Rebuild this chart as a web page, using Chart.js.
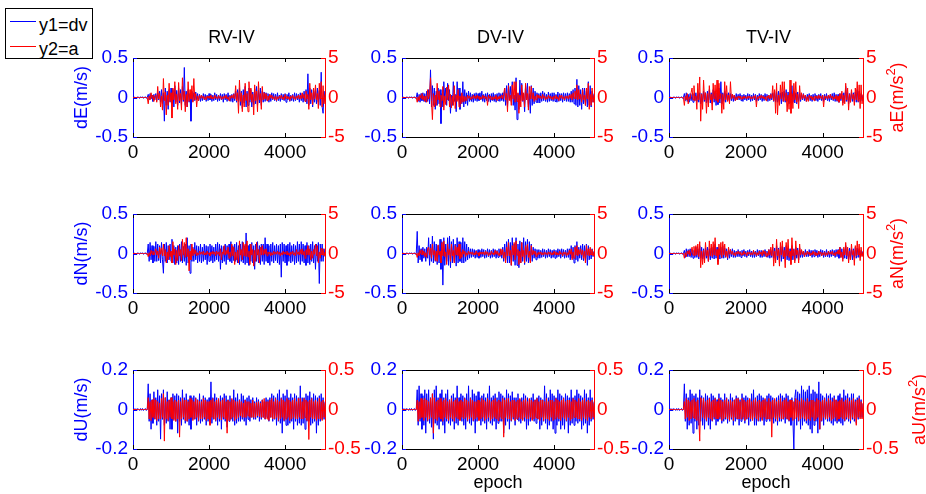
<!DOCTYPE html>
<html>
<head>
<meta charset="utf-8">
<script src="https://cdn.jsdelivr.net/npm/chart.js@4.4.0/dist/chart.umd.min.js"></script>
<style>
  html, body { margin: 0; padding: 0; background: #fff; }
  body { width: 926px; height: 494px; position: relative; overflow: hidden;
         font-family: "Liberation Sans", Arial, Helvetica, sans-serif; }
  .panel { position: absolute; }
  .panel canvas { display: block; }
  #legend { position: absolute; left: 5px; top: 8px; width: 86px; height: 49px;
            border: 1px solid #000; background: #fff; }
  #legend .ln { position: absolute; left: 4px; width: 26px; height: 1px; }
  #legend .tx { position: absolute; left: 33px; font-size: 18px; line-height: 20px; color: #000; white-space: nowrap; }
</style>
</head>
<body>
<div id="legend">
  <div class="ln" style="top:12px;background:#0000ff"></div>
  <div class="tx" style="top:6px">y1=dv</div>
  <div class="ln" style="top:37px;background:#ff0000"></div>
  <div class="tx" style="top:30px">y2=a</div>
</div>
<script>
/* ---- axes ---- */
const epochStep  = 25;
const epochMax   = 5050;
const epochTicks = [0, 2000, 4000];
const dvTicksEN  = [-0.5, 0, 0.5];
const aTicksEN   = [-5, 0, 5];
const dvTicksU   = [-0.2, 0, 0.2];
const aTicksU    = [-0.5, 0, 0.5];

const methods = ['RV-IV', 'DV-IV', 'TV-IV'];
const comps   = ['E', 'N', 'U'];

/* ---- series, one value every 25 epochs (0..375 is the quiet start) ---- */
const headEN = [0,0.01,-0.01,0.005,-0.01,0.01,0,-0.01,0.01,-0.005,0.01,-0.01,0,0.01,-0.01,0];
const headU  = [0,0.005,-0.005,0.004,-0.005,0.005,0,-0.005,0.005,-0.004,0.005,-0.005,0,0.005,-0.005,0];
const headA  = [0,0,0,0,0,0,0,0,0,0,0,0,0,0,0,0];

const dE_RV = [...headEN,
  0.04,-0.03,0.05,-0.02,0.03,-0.05,0.04,-0.03,
  0.05,-0.04,0.06,-0.03,0.08,-0.06,0.1,-0.08,
  0.06,-0.3,0.12,-0.1,0.08,-0.15,0.1,-0.06,
  0.12,-0.08,0.1,-0.12,0.15,-0.06,0.09,-0.1,
  0.12,-0.07,0.1,-0.09,0.14,-0.05,0.38,-0.1,
  0.08,-0.12,0.1,-0.06,0.05,-0.3,0.08,-0.05,
  0.06,-0.04,0.07,-0.03,0.05,-0.04,0.04,-0.05,
  0.03,-0.04,0.05,-0.03,0.04,-0.05,0.03,-0.04,
  0.05,-0.03,0.04,-0.05,0.03,-0.04,0.06,-0.03,
  0.04,-0.05,0.03,-0.04,0.05,-0.03,0.04,-0.06,
  0.05,-0.03,0.04,-0.05,0.06,-0.04,0.03,-0.05,
  0.04,-0.06,0.05,-0.04,0.08,-0.06,0.1,-0.05,
  0.12,-0.1,0.08,-0.14,0.1,-0.07,0.14,-0.12,
  0.08,-0.1,0.12,-0.06,0.1,-0.12,0.07,-0.09,
  0.11,-0.08,0.14,-0.1,0.09,-0.07,0.12,-0.1,
  0.08,-0.06,0.07,-0.05,0.06,-0.04,0.05,-0.06,
  0.04,-0.05,0.06,-0.03,0.05,-0.04,0.04,-0.05,
  0.06,-0.04,0.03,-0.05,0.05,-0.03,0.04,-0.04,
  0.05,-0.06,0.04,-0.03,0.06,-0.05,0.03,-0.04,
  0.04,-0.05,0.06,-0.04,0.05,-0.03,0.04,-0.06,
  0.06,-0.04,0.05,-0.06,0.08,-0.05,0.1,-0.08,
  0.3,-0.1,0.12,-0.08,0.1,-0.12,0.08,-0.06,
  0.1,-0.08,0.12,-0.06,0.09,-0.1,0.32,-0.12,
  -0.2,0.08,-0.05];
const aE_RV = [...headA,
  -0.8,0.2,-0.3,0.6,-0.1,0.3,-0.5,0.1,
  0.3,-0.6,1.4,-0.2,0.5,-1.2,0.2,-1.6,
  2.4,-0.4,0.7,-2.2,0.3,-1.0,1.8,-0.5,
  0.6,-2.6,1.2,-0.3,2.0,-0.8,0.4,-1.5,
  1.9,-0.4,0.5,-1.6,2.5,-0.3,0.8,-1.8,
  0.4,-1.2,2.0,-0.5,1.0,-0.2,1.5,-0.6,
  2.4,-0.3,0.5,-1.2,0.2,-0.4,0.3,-0.1,
  0.3,-0.1,0.2,-0.25,0.1,-0.3,0.2,-0.1,
  0.2,-0.1,0.3,-0.2,0.1,-0.2,0.3,-0.1,
  0.1,-0.2,0.25,-0.1,0.2,-0.25,0.1,-0.2,
  0.2,-0.1,0.3,-0.2,0.1,-0.4,0.2,-0.1,
  0.3,-0.1,0.4,-0.2,1.5,-0.4,0.6,-2.0,
  2.2,-0.5,0.6,-1.8,0.3,-1.2,1.8,-0.4,
  0.5,-1.8,2.0,-0.3,1.2,-0.6,0.4,-2.2,
  1.6,-0.4,0.8,-1.8,2.0,-0.3,0.5,-1.5,
  1.4,-0.3,0.6,-0.2,0.5,-0.4,0.2,-0.3,
  0.4,-0.1,0.3,-0.2,0.1,-0.3,0.2,-0.4,
  0.1,-0.2,0.2,-0.1,0.3,-0.2,0.1,-0.3,
  0.4,-0.1,0.2,-0.2,0.1,-0.4,0.2,-0.1,
  0.3,-0.2,0.1,-0.3,0.2,-0.1,0.3,-0.2,
  0.3,-0.2,0.6,-0.1,0.4,-0.5,0.8,-0.2,
  0.4,-1.5,1.8,-0.3,0.6,-0.9,1.2,-0.2,
  1.6,-0.3,0.5,-1.4,1.8,-0.2,2.0,-1.2,
  1.5,-0.8,0.4];
const dE_DV = [...headEN,
  0.06,-0.05,0.04,-0.06,0.05,-0.04,0.06,-0.05,
  0.05,-0.06,0.08,-0.05,0.1,-0.08,0.35,-0.12,
  0.15,-0.1,0.12,-0.15,0.08,-0.1,0.12,-0.08,
  0.1,-0.33,0.05,-0.12,0.2,-0.03,0.12,-0.1,
  0.18,-0.04,0.1,-0.2,0.03,-0.1,0.2,-0.05,
  0.04,-0.18,0.2,-0.03,0.12,-0.15,0.05,-0.08,
  0.2,-0.12,0.1,-0.08,0.06,-0.1,0.08,-0.05,
  0.06,-0.05,0.04,-0.06,0.05,-0.04,0.06,-0.05,
  0.05,-0.04,0.06,-0.03,0.08,-0.05,0.04,-0.06,
  0.05,-0.04,0.06,-0.05,0.04,-0.06,0.05,-0.04,
  0.06,-0.05,0.04,-0.06,0.05,-0.04,0.06,-0.05,
  0.05,-0.04,0.06,-0.05,0.12,-0.1,0.15,-0.12,
  0.18,-0.03,0.14,-0.05,0.2,-0.1,0.03,-0.16,
  0.25,-0.28,0.05,-0.15,0.22,-0.04,0.18,-0.05,
  0.04,-0.18,0.15,-0.03,0.18,-0.12,0.05,-0.2,
  0.15,-0.1,0.12,-0.08,0.08,-0.06,0.06,-0.07,
  0.05,-0.07,0.06,-0.05,0.08,-0.04,0.06,-0.05,
  0.04,-0.06,0.07,-0.05,0.05,-0.04,0.06,-0.05,
  0.06,-0.05,0.04,-0.06,0.07,-0.05,0.05,-0.04,
  0.05,-0.06,0.06,-0.04,0.05,-0.05,0.06,-0.05,
  0.05,-0.06,0.08,-0.06,0.1,-0.08,0.12,-0.1,
  0.23,-0.12,0.15,-0.1,0.1,-0.15,0.12,-0.08,
  0.12,-0.1,0.08,-0.12,0.2,-0.1,0.15,-0.12,
  0.08,-0.06,0.05];
const aE_DV = [...headA,
  -0.6,0.1,-0.4,0.3,-0.1,0.5,-0.3,0.2,
  -0.5,0.2,-0.6,1.0,-0.2,0.4,2.5,-0.4,
  -2.8,0.5,-1.2,0.3,-1.0,1.8,-0.3,0.8,
  -1.2,0.3,-0.4,1.4,-1.6,0.2,-0.9,1.3,
  -0.3,1.6,-1.2,0.4,-1.3,0.2,-1.0,1.5,
  -1.4,0.3,-0.5,1.0,-1.2,0.2,-0.8,0.6,
  -0.6,0.2,-0.5,0.1,-0.4,0.3,-0.1,0.2,
  -0.3,0.1,-0.2,0.3,-0.1,0.2,-0.2,0.3,
  -0.1,0.2,-0.3,0.1,-0.2,0.3,-0.1,0.2,
  -0.2,0.1,-1.0,0.3,-0.1,0.2,-0.3,0.1,
  -0.3,0.1,-0.2,0.3,-0.4,0.1,-0.2,0.2,
  -0.1,0.3,-0.2,0.4,1.2,-0.3,0.5,-1.8,
  1.5,-0.4,0.3,-1.0,1.6,-0.2,2.0,-0.6,
  2.0,-0.5,0.6,-2.0,0.3,-1.2,1.6,-0.4,
  0.6,-1.2,1.8,-0.3,0.5,-1.6,1.4,-0.2,
  1.4,-0.2,0.6,-0.5,0.2,-0.3,0.4,-0.1,
  0.3,-0.1,0.2,-0.2,0.4,-0.1,0.2,-0.3,
  0.1,-0.2,0.3,-0.1,0.2,-0.2,0.1,-0.3,
  0.2,-0.1,0.3,-0.2,0.1,-0.4,0.3,-0.1,
  0.3,-0.2,0.1,-0.3,0.2,-0.1,0.2,-0.2,
  0.3,-0.1,0.4,-0.3,0.6,-0.1,0.8,-0.2,
  1.6,-0.3,1.0,-0.2,0.4,-0.6,1.0,-0.3,
  0.3,-1.0,1.2,-0.2,1.8,-1.5,0.4,-1.0,
  1.2,-0.6,0.3];
const dE_TV = [...headEN,
  0.05,-0.04,0.06,-0.05,0.04,-0.06,0.05,-0.04,
  0.04,-0.06,0.05,-0.04,0.06,-0.05,0.04,-0.06,
  0.06,-0.08,0.05,-0.06,0.08,-0.05,0.06,-0.07,
  0.08,-0.06,0.1,-0.07,0.06,-0.08,0.1,-0.06,
  0.08,-0.1,0.06,-0.09,0.12,-0.07,0.2,-0.08,
  0.06,-0.05,0.08,-0.06,0.05,-0.04,0.06,-0.05,
  0.05,-0.04,0.04,-0.05,0.03,-0.04,0.05,-0.03,
  0.04,-0.03,0.05,-0.04,0.03,-0.05,0.04,-0.03,
  0.03,-0.04,0.05,-0.03,0.04,-0.05,0.03,-0.04,
  0.05,-0.03,0.04,-0.05,0.03,-0.04,0.05,-0.03,
  0.04,-0.05,0.03,-0.04,0.05,-0.03,0.04,-0.05,
  0.03,-0.04,0.05,-0.03,0.06,-0.05,0.08,-0.06,
  0.07,-0.06,0.08,-0.05,0.06,-0.08,0.07,-0.05,
  0.08,-0.06,0.1,-0.05,0.07,-0.08,0.06,-0.07,
  0.15,-0.06,0.08,-0.07,0.06,-0.08,0.07,-0.05,
  0.06,-0.05,0.04,-0.03,0.05,-0.04,0.03,-0.05,
  0.04,-0.03,0.05,-0.04,0.03,-0.05,0.04,-0.03,
  0.05,-0.04,0.03,-0.05,0.04,-0.03,0.05,-0.04,
  0.03,-0.05,0.04,-0.03,0.05,-0.04,0.03,-0.05,
  0.04,-0.03,0.05,-0.04,0.06,-0.05,0.04,-0.05,
  0.04,-0.06,0.05,-0.04,0.05,-0.07,0.06,-0.05,
  0.14,-0.05,0.06,-0.08,0.05,-0.06,0.07,-0.05,
  0.06,-0.05,0.07,-0.06,0.1,-0.06,0.08,-0.05,
  0.05,-0.04,0.03];
const aE_TV = [...headA,
  -1.0,0.2,-0.3,0.5,-0.8,0.1,-0.2,0.6,
  1.2,-0.3,1.5,-0.4,0.2,-1.5,1.8,-0.3,
  2.6,-3.0,0.4,-1.5,2.2,-0.3,0.6,-2.0,
  0.5,-1.2,1.5,-0.3,0.4,-1.6,1.8,-0.2,
  1.6,-0.4,2.2,-0.6,1.8,-0.2,0.5,-2.0,
  0.4,-1.5,2.0,-0.3,1.5,-0.5,0.3,-0.8,
  2.0,-0.2,0.4,-0.1,0.3,-0.4,0.1,-0.3,
  0.2,-0.1,0.2,-0.2,0.1,-0.2,0.2,-0.1,
  0.1,-0.2,0.2,-0.1,0.2,-0.2,0.1,-0.2,
  0.2,-0.1,0.3,-1.2,0.1,-0.2,0.2,-0.1,
  0.3,-0.1,0.2,-0.2,0.1,-0.4,0.2,-0.1,
  0.3,-0.2,0.4,-0.1,1.5,-0.4,1.0,-2.0,
  1.8,-2.2,0.3,-1.0,1.6,-0.2,2.0,-0.5,
  2.0,-0.4,0.6,-1.8,0.3,-1.5,2.2,-2.0,
  0.5,-1.4,1.8,-0.3,2.0,-0.6,0.4,-1.4,
  1.5,-0.3,0.6,-0.2,0.4,-0.1,0.3,-0.5,
  0.1,-0.5,0.3,-0.1,0.2,-0.3,0.1,-0.4,
  0.2,-0.1,0.2,-0.2,0.3,-0.1,0.2,-0.2,
  0.3,-1.2,0.2,-0.1,0.2,-0.2,0.3,-0.1,
  0.4,-0.1,0.2,-0.3,0.1,-0.2,0.3,-0.4,
  0.2,-0.6,0.5,-0.2,0.8,-1.0,0.3,-0.8,
  1.8,-0.3,1.2,-1.6,0.4,-0.6,1.0,-0.2,
  0.4,-1.0,1.2,-0.3,2.0,-0.5,1.6,-1.4,
  1.6,-0.8,0.4];

const dN_RV = [...headEN,
  0.12,-0.1,0.14,-0.08,0.1,-0.12,0.09,-0.1,
  0.15,-0.1,0.12,-0.09,0.1,-0.12,0.14,-0.08,
  -0.25,0.12,-0.1,0.14,-0.12,0.1,-0.08,0.12,
  -0.1,0.18,-0.12,0.1,-0.14,0.08,-0.12,0.1,
  -0.14,0.12,-0.1,0.15,-0.12,0.09,-0.1,0.12,
  -0.15,0.2,-0.12,0.1,-0.25,0.12,-0.1,0.08,
  -0.1,0.14,-0.08,0.1,-0.12,0.09,-0.1,0.12,
  -0.12,0.08,-0.1,0.12,-0.08,0.1,-0.14,0.09,
  -0.1,0.12,-0.09,0.1,-0.12,0.08,-0.1,0.12,
  -0.08,0.14,-0.1,0.12,-0.2,0.1,-0.12,0.09,
  -0.1,0.12,-0.14,0.1,-0.08,0.12,-0.1,0.15,
  -0.12,0.1,-0.09,0.12,-0.1,0.14,-0.12,0.1,
  -0.14,0.12,-0.1,0.15,-0.12,0.1,-0.14,0.26,
  -0.12,0.1,-0.15,0.12,-0.1,0.14,-0.12,0.1,
  -0.2,0.12,-0.1,0.15,-0.12,0.1,-0.14,0.12,
  -0.1,0.12,-0.14,0.2,-0.1,0.12,-0.12,0.1,
  -0.15,0.12,-0.1,0.14,-0.12,0.1,-0.09,0.12,
  -0.12,0.1,-0.14,0.12,-0.3,0.14,-0.1,0.12,
  -0.12,0.1,-0.15,0.12,-0.1,0.14,-0.12,0.1,
  -0.1,0.12,-0.14,0.1,-0.12,0.15,-0.1,0.12,
  -0.14,0.15,-0.1,0.12,-0.12,0.1,-0.15,0.14,
  -0.12,0.1,-0.14,0.12,-0.1,0.15,-0.12,0.1,
  -0.2,0.12,-0.1,0.14,-0.38,0.12,-0.1,0.12,
  -0.1,0.06,-0.04];
const aN_RV = [...headA,
  -0.4,0.1,-0.3,0.4,-0.1,0.3,-0.2,0.1,
  0.6,-0.2,0.3,-0.6,0.8,-0.1,0.7,-0.3,
  1.2,-0.3,0.5,-1.2,0.2,-0.8,1.0,-0.4,
  0.3,-1.2,1.5,-0.2,0.6,-1.4,0.4,-0.9,
  1.0,-0.3,0.5,-0.9,1.8,-0.2,1.4,-0.5,
  2.0,-0.4,0.6,-2.2,0.3,-0.8,1.2,-0.3,
  0.6,-0.1,0.4,-0.3,0.1,-0.2,0.3,-0.1,
  0.2,-0.1,0.3,-0.2,0.1,-0.2,0.3,-0.1,
  0.1,-0.3,0.2,-0.1,0.3,-0.1,0.2,-0.3,
  0.3,-0.1,0.2,-0.3,0.6,-0.8,0.2,-0.1,
  1.0,-0.2,0.4,-0.1,0.8,-0.6,0.2,-0.4,
  1.2,-0.3,0.8,-1.4,0.2,-0.8,0.4,-1.2,
  1.6,-0.2,0.5,-0.8,1.4,-0.3,1.2,-0.4,
  1.6,-0.4,0.3,-1.4,1.2,-0.2,0.5,-1.6,
  0.4,-1.0,1.4,-0.2,0.5,-1.2,0.8,-0.2,
  1.0,-0.2,0.5,-0.1,0.6,-0.3,0.2,-0.1,
  0.2,-0.3,0.1,-0.2,0.3,-0.1,0.2,-0.1,
  0.3,-0.1,0.2,-0.3,0.1,-0.2,0.3,-0.1,
  0.2,-0.1,0.3,-0.2,0.1,-0.3,0.2,-0.1,
  0.3,-0.2,0.1,-0.3,0.5,-0.1,0.2,-0.2,
  0.5,-0.1,0.6,-0.2,0.3,-0.6,0.5,-0.2,
  1.0,-0.2,0.6,-0.8,0.3,-0.6,0.5,-0.1,
  1.2,-0.3,1.0,-1.2,0.2,-0.6,0.7,-0.2,
  0.6,-0.3,0.2];
const dN_DV = [...headEN,
  0.28,-0.12,0.1,-0.08,0.06,-0.1,0.08,-0.06,
  0.06,-0.1,0.08,-0.06,0.2,-0.15,0.12,-0.1,
  0.22,-0.12,0.15,-0.1,0.12,-0.14,0.1,-0.12,
  0.18,-0.2,0.15,-0.4,0.2,-0.15,0.12,-0.1,
  0.2,-0.15,0.22,-0.18,0.15,-0.12,0.18,-0.1,
  0.12,-0.16,0.2,-0.12,0.15,-0.1,0.14,-0.12,
  0.2,-0.12,0.15,-0.1,0.12,-0.08,0.08,-0.06,
  0.06,-0.05,0.06,-0.04,0.05,-0.06,0.04,-0.05,
  0.05,-0.06,0.04,-0.05,0.06,-0.04,0.05,-0.06,
  0.04,-0.05,0.06,-0.04,0.05,-0.06,0.04,-0.05,
  0.06,-0.04,0.05,-0.06,0.04,-0.05,0.06,-0.04,
  0.05,-0.06,0.08,-0.1,0.12,-0.08,0.15,-0.12,
  0.18,-0.12,0.14,-0.15,0.2,-0.1,0.12,-0.15,
  0.2,-0.15,0.12,-0.18,0.16,-0.12,0.14,-0.1,
  0.2,-0.14,0.15,-0.1,0.18,-0.12,0.15,-0.1,
  0.12,-0.1,0.08,-0.06,0.06,-0.08,0.05,-0.06,
  0.05,-0.06,0.04,-0.05,0.06,-0.04,0.05,-0.06,
  0.04,-0.05,0.06,-0.04,0.05,-0.06,0.04,-0.05,
  0.05,-0.06,0.04,-0.05,0.06,-0.04,0.05,-0.06,
  0.06,-0.04,0.05,-0.06,0.04,-0.05,0.06,-0.05,
  0.06,-0.08,0.1,-0.06,0.08,-0.12,0.1,-0.08,
  0.15,-0.1,0.08,-0.06,0.1,-0.08,0.12,-0.09,
  0.1,-0.08,0.12,-0.15,0.1,-0.08,0.06,-0.07,
  0.06,-0.04,0.03];
const aN_DV = [...headA,
  -0.5,0.1,-0.3,0.4,-0.1,0.5,-0.2,0.3,
  -0.4,0.1,-0.5,0.6,0.8,-0.2,0.7,-0.6,
  1.2,-0.2,0.4,-0.9,0.3,-1.0,1.1,-0.2,
  0.3,-1.2,1.4,-0.3,1.6,-0.4,0.2,-1.4,
  1.2,-0.2,0.5,-1.0,1.2,-0.3,0.4,-1.2,
  1.0,-0.2,0.8,-0.3,1.2,-0.7,0.2,-0.5,
  0.5,-0.1,0.3,-0.4,0.1,-0.2,0.3,-0.1,
  0.2,-0.1,0.2,-0.2,0.1,-0.2,0.3,-0.1,
  0.1,-0.3,0.2,-0.1,0.2,-0.1,0.2,-0.2,
  0.3,-0.1,0.2,-0.3,0.1,-0.2,0.3,-0.1,
  0.1,-0.2,0.4,-0.1,0.3,-0.2,0.1,-0.3,
  0.6,-0.2,0.5,-0.6,0.2,-1.2,0.8,-0.3,
  1.4,-0.3,0.4,-1.5,1.0,-0.2,1.4,-0.8,
  1.6,-0.2,0.5,-1.4,0.3,-1.2,1.4,-0.4,
  0.4,-1.2,1.0,-0.2,1.2,-0.5,0.3,-1.2,
  1.0,-0.2,0.4,-0.1,0.3,-0.4,0.1,-0.2,
  0.2,-0.1,0.2,-0.2,0.1,-0.2,0.2,-0.1,
  0.1,-0.2,0.2,-0.1,0.2,-0.2,0.1,-0.2,
  0.3,-0.1,0.2,-0.2,0.1,-0.2,0.3,-0.1,
  0.1,-0.3,0.2,-0.1,0.2,-0.3,0.1,-0.2,
  0.4,-0.1,0.6,-0.8,0.2,-0.6,0.8,-0.2,
  1.0,-0.3,0.5,-0.1,0.6,-0.2,0.4,-0.6,
  0.3,-1.2,1.0,-0.2,0.6,-0.3,0.8,-0.2,
  0.5,-0.3,0.2];
const dN_TV = [...headEN,
  0.04,-0.05,0.06,-0.04,0.05,-0.04,0.06,-0.05,
  0.05,-0.06,0.04,-0.05,0.08,-0.05,0.06,-0.07,
  0.1,-0.06,0.08,-0.07,0.06,-0.08,0.07,-0.06,
  0.08,-0.1,0.06,-0.08,0.07,-0.06,0.08,-0.07,
  0.12,-0.06,0.08,-0.1,0.06,-0.07,0.08,-0.06,
  0.1,-0.06,0.07,-0.05,0.06,-0.08,0.05,-0.06,
  0.05,-0.04,0.06,-0.05,0.04,-0.05,0.03,-0.04,
  0.05,-0.04,0.03,-0.05,0.04,-0.03,0.05,-0.04,
  0.03,-0.05,0.04,-0.03,0.05,-0.04,0.03,-0.05,
  0.04,-0.05,0.03,-0.04,0.05,-0.03,0.04,-0.05,
  0.04,-0.05,0.03,-0.04,0.05,-0.04,0.03,-0.05,
  0.05,-0.06,0.04,-0.05,0.08,-0.06,0.07,-0.08,
  0.1,-0.08,0.07,-0.06,0.08,-0.1,0.09,-0.07,
  0.08,-0.06,0.1,-0.08,0.07,-0.09,0.06,-0.08,
  0.1,-0.08,0.06,-0.09,0.08,-0.06,0.07,-0.08,
  0.07,-0.05,0.04,-0.05,0.03,-0.04,0.05,-0.04,
  0.03,-0.04,0.05,-0.03,0.04,-0.05,0.04,-0.04,
  0.05,-0.03,0.04,-0.05,0.03,-0.04,0.05,-0.03,
  0.04,-0.05,0.03,-0.04,0.05,-0.04,0.03,-0.05,
  0.04,-0.04,0.05,-0.03,0.04,-0.05,0.05,-0.04,
  0.05,-0.06,0.08,-0.05,0.06,-0.07,0.05,-0.06,
  0.1,-0.07,0.06,-0.08,0.07,-0.05,0.06,-0.08,
  0.06,-0.05,0.08,-0.06,0.07,-0.05,0.06,-0.05,
  0.04,-0.03,0.03];
const aN_TV = [...headA,
  -0.6,0.1,-0.4,0.3,-0.1,0.4,-0.3,0.2,
  0.8,-0.2,0.9,-0.3,1.0,-0.2,1.2,-0.4,
  1.5,-1.8,0.3,-1.4,0.4,-1.2,1.4,-0.3,
  0.4,-1.0,1.6,-0.3,1.2,-0.4,1.5,-0.2,
  2.0,-0.3,0.5,-1.4,1.2,-0.2,1.4,-0.5,
  1.5,-0.2,1.2,-0.4,0.3,-0.6,0.8,-0.1,
  0.5,-0.1,0.3,-0.2,0.1,-0.3,0.2,-0.1,
  0.3,-0.1,0.2,-0.2,0.1,-0.2,0.3,-0.1,
  0.1,-0.3,0.2,-0.1,0.2,-0.2,0.1,-0.2,
  0.4,-0.1,0.2,-0.3,0.1,-0.2,0.3,-0.1,
  0.2,-0.3,0.4,-0.1,0.3,-0.4,0.1,-0.3,
  0.5,-0.2,0.8,-0.3,1.2,-1.6,0.3,-1.2,
  1.8,-0.3,0.5,-1.6,1.4,-0.2,1.6,-0.4,
  0.4,-1.8,1.4,-0.3,1.8,-0.5,0.3,-1.4,
  2.0,-0.3,0.5,-1.2,1.6,-0.2,0.4,-1.2,
  1.2,-0.2,0.5,-0.1,0.3,-0.4,0.1,-0.2,
  0.3,-0.1,0.2,-0.3,0.1,-0.2,0.3,-0.1,
  0.2,-0.3,0.1,-0.2,0.3,-0.1,0.2,-0.3,
  0.1,-0.2,0.2,-0.3,0.1,-0.2,0.3,-0.1,
  0.2,-0.1,0.3,-0.2,0.1,-0.3,0.2,-0.1,
  0.4,-0.1,0.8,-0.5,0.2,-1.0,0.8,-0.2,
  1.4,-0.3,0.8,-1.2,0.3,-0.8,1.2,-0.2,
  0.4,-1.5,1.0,-0.3,1.6,-0.2,1.2,-0.9,
  0.8,-0.4,0.2];

const dU_RV = [...headU,
  0.13,-0.06,0.08,-0.1,0.05,-0.07,0.09,-0.05,
  0.06,-0.08,0.1,-0.06,0.07,-0.15,0.08,-0.05,
  0.1,-0.08,0.06,-0.07,0.09,-0.06,0.05,-0.1,
  0.06,-0.1,0.08,-0.05,0.07,-0.06,0.08,-0.12,
  0.07,-0.06,0.06,-0.08,0.1,-0.05,0.06,-0.07,
  0.08,-0.06,0.05,-0.08,0.07,-0.1,0.06,-0.05,
  0.07,-0.05,0.06,-0.08,0.05,-0.06,0.08,-0.07,
  0.05,-0.06,0.07,-0.05,0.06,-0.08,0.05,-0.06,
  0.06,-0.07,0.14,-0.07,0.06,-0.05,0.08,-0.06,
  0.06,-0.08,0.05,-0.06,0.07,-0.1,0.06,-0.05,
  0.08,-0.06,0.07,-0.09,0.05,-0.06,0.07,-0.05,
  0.05,-0.06,0.1,-0.08,0.06,-0.07,0.08,-0.06,
  0.05,-0.06,0.08,-0.05,0.07,-0.06,0.05,-0.08,
  0.06,-0.05,0.07,-0.06,0.05,-0.04,0.06,-0.05,
  0.04,-0.05,0.06,-0.04,0.05,-0.06,0.04,-0.05,
  0.05,-0.04,0.04,-0.05,0.06,-0.04,0.05,-0.06,
  0.06,-0.04,0.08,-0.06,0.07,-0.05,0.06,-0.08,
  0.08,-0.06,0.1,-0.07,0.06,-0.12,0.08,-0.06,
  0.07,-0.08,0.1,-0.08,0.06,-0.07,0.08,-0.06,
  0.06,-0.1,0.08,-0.06,0.07,-0.08,0.06,-0.07,
  0.12,-0.08,0.06,-0.07,0.06,-0.1,0.08,-0.06,
  0.07,-0.06,0.09,-0.08,0.06,-0.07,0.08,-0.06,
  0.07,-0.12,0.06,-0.08,0.07,-0.06,0.08,-0.05,
  0.06,-0.05,0.04];
const aU_RV = [...headA,
  0.15,-0.12,0.1,-0.14,0.12,-0.1,0.14,-0.12,
  0.12,-0.14,0.1,-0.12,0.08,-0.12,0.14,-0.1,
  0.2,-0.4,0.15,-0.12,0.1,-0.14,0.12,-0.1,
  0.15,-0.12,0.1,-0.14,0.12,-0.15,0.1,-0.12,
  0.12,-0.35,0.1,-0.12,0.14,-0.1,0.12,-0.14,
  0.12,-0.15,0.1,-0.12,0.14,-0.1,0.12,-0.14,
  0.1,-0.12,0.14,-0.1,0.12,-0.14,0.1,-0.12,
  0.1,-0.12,0.14,-0.1,0.12,-0.14,0.1,-0.12,
  0.1,-0.2,0.12,-0.1,0.14,-0.12,0.1,-0.14,
  0.12,-0.1,0.14,-0.12,0.1,-0.13,0.12,-0.1,
  0.14,-0.12,0.1,-0.3,0.12,-0.14,0.1,-0.12,
  0.14,-0.1,0.12,-0.14,0.1,-0.12,0.1,-0.1,
  0.12,-0.08,0.1,-0.1,0.08,-0.1,0.12,-0.1,
  0.1,-0.08,0.1,-0.1,0.08,-0.1,0.12,-0.1,
  0.08,-0.1,0.09,-0.08,0.1,-0.09,0.08,-0.1,
  0.12,-0.1,0.14,-0.12,0.1,-0.12,0.1,-0.14,
  0.12,-0.1,0.14,-0.12,0.1,-0.12,0.14,-0.1,
  0.12,-0.14,0.1,-0.12,0.14,-0.1,0.12,-0.14,
  0.1,-0.12,0.14,-0.1,0.12,-0.14,0.1,-0.12,
  0.12,-0.1,0.14,-0.12,0.1,-0.12,0.14,-0.1,
  0.14,-0.12,0.1,-0.12,0.14,-0.1,0.12,-0.14,
  0.1,-0.38,0.12,-0.1,0.14,-0.12,0.1,-0.12,
  0.12,-0.14,0.1,-0.12,0.14,-0.12,0.1,-0.14,
  0.12,-0.1,0.08];
const dU_DV = [...headU,
  0.1,-0.08,0.12,-0.06,0.08,-0.1,0.07,-0.08,
  0.1,-0.12,0.08,-0.06,0.1,-0.07,0.06,-0.09,
  0.08,-0.15,0.1,-0.07,0.12,-0.08,0.06,-0.1,
  0.08,-0.06,0.1,-0.08,0.06,-0.12,0.08,-0.06,
  0.1,-0.07,0.05,-0.08,0.07,-0.06,0.08,-0.1,
  0.06,-0.07,0.12,-0.08,0.06,-0.05,0.08,-0.06,
  0.07,-0.08,0.06,-0.1,0.08,-0.06,0.12,-0.07,
  0.06,-0.08,0.1,-0.06,0.08,-0.12,0.07,-0.06,
  0.09,-0.05,0.06,-0.08,0.07,-0.06,0.08,-0.07,
  0.06,-0.1,0.08,-0.06,0.12,-0.07,0.06,-0.08,
  0.07,-0.06,0.08,-0.1,0.06,-0.07,0.09,-0.06,
  0.08,-0.06,0.07,-0.12,0.06,-0.08,0.1,-0.06,
  0.08,-0.1,0.07,-0.06,0.09,-0.05,0.06,-0.08,
  0.06,-0.05,0.08,-0.06,0.05,-0.07,0.06,-0.05,
  0.08,-0.06,0.07,-0.1,0.06,-0.08,0.05,-0.06,
  0.06,-0.05,0.08,-0.06,0.05,-0.07,0.06,-0.05,
  0.07,-0.1,0.06,-0.08,0.05,-0.06,0.12,-0.07,
  0.08,-0.1,0.06,-0.08,0.1,-0.06,0.08,-0.1,
  0.07,-0.12,0.06,-0.08,0.1,-0.06,0.08,-0.1,
  0.07,-0.08,0.06,-0.1,0.08,-0.06,0.07,-0.12,
  0.06,-0.08,0.1,-0.07,0.06,-0.08,0.07,-0.06,
  0.1,-0.07,0.08,-0.06,0.07,-0.1,0.06,-0.08,
  0.1,-0.07,0.08,-0.12,0.06,-0.08,0.1,-0.06,
  0.06,-0.05,0.04];
const aU_DV = [...headA,
  0.12,-0.15,0.1,-0.12,0.14,-0.1,0.12,-0.14,
  0.14,-0.1,0.12,-0.14,0.1,-0.12,0.14,-0.1,
  0.2,-0.3,0.15,-0.12,0.1,-0.14,0.12,-0.1,
  0.14,-0.12,0.1,-0.15,0.12,-0.1,0.14,-0.12,
  0.1,-0.14,0.12,-0.1,0.14,-0.12,0.1,-0.15,
  0.12,-0.1,0.14,-0.12,0.1,-0.14,0.12,-0.1,
  0.1,-0.12,0.14,-0.1,0.12,-0.14,0.1,-0.12,
  0.14,-0.1,0.12,-0.14,0.1,-0.12,0.1,-0.1,
  0.12,-0.14,0.1,-0.12,0.14,-0.1,0.12,-0.14,
  0.1,-0.12,0.14,-0.1,0.12,-0.14,0.1,-0.12,
  0.12,-0.1,0.14,-0.12,0.1,-0.14,0.12,-0.1,
  0.1,-0.12,0.14,-0.35,0.12,-0.1,0.14,-0.12,
  0.14,-0.12,0.1,-0.14,0.12,-0.1,0.12,-0.14,
  0.1,-0.12,0.12,-0.1,0.14,-0.12,0.1,-0.14,
  0.12,-0.1,0.14,-0.12,0.1,-0.12,0.14,-0.1,
  0.12,-0.14,0.1,-0.12,0.12,-0.1,0.14,-0.12,
  0.1,-0.14,0.12,-0.1,0.12,-0.14,0.1,-0.12,
  0.14,-0.12,0.1,-0.14,0.12,-0.1,0.12,-0.14,
  0.1,-0.12,0.14,-0.1,0.12,-0.12,0.1,-0.14,
  0.12,-0.1,0.14,-0.12,0.1,-0.14,0.12,-0.1,
  0.12,-0.14,0.1,-0.12,0.14,-0.1,0.12,-0.1,
  0.1,-0.12,0.14,-0.12,0.1,-0.14,0.12,-0.1,
  0.14,-0.12,0.1,-0.14,0.12,-0.1,0.1,-0.12,
  0.12,-0.1,0.08];
const dU_TV = [...headU,
  0.13,-0.06,0.08,-0.1,0.06,-0.08,0.1,-0.07,
  0.08,-0.12,0.07,-0.06,0.08,-0.1,0.06,-0.08,
  0.1,-0.06,0.07,-0.08,0.06,-0.1,0.08,-0.06,
  0.07,-0.08,0.06,-0.1,0.08,-0.06,0.07,-0.05,
  0.06,-0.08,0.05,-0.06,0.08,-0.05,0.06,-0.07,
  0.05,-0.06,0.08,-0.05,0.06,-0.07,0.05,-0.06,
  0.08,-0.05,0.06,-0.08,0.05,-0.06,0.07,-0.05,
  0.06,-0.08,0.05,-0.06,0.08,-0.05,0.06,-0.07,
  0.07,-0.05,0.06,-0.08,0.05,-0.06,0.08,-0.05,
  0.1,-0.08,0.06,-0.08,0.07,-0.06,0.08,-0.06,
  0.07,-0.05,0.06,-0.08,0.05,-0.06,0.07,-0.05,
  0.08,-0.06,0.07,-0.05,0.06,-0.07,0.05,-0.06,
  0.06,-0.08,0.07,-0.06,0.08,-0.06,0.07,-0.05,
  0.06,-0.07,0.08,-0.05,0.07,-0.06,0.05,-0.08,
  0.06,-0.05,-0.2,0.06,0.1,-0.08,0.09,-0.06,
  0.08,-0.1,0.12,-0.08,0.1,-0.06,0.09,-0.07,
  0.1,-0.08,0.12,-0.1,0.08,-0.12,0.1,-0.08,
  0.09,-0.06,0.08,-0.12,0.14,-0.1,0.08,-0.06,
  0.07,-0.08,0.06,-0.05,0.08,-0.06,0.07,-0.06,
  0.08,-0.07,0.06,-0.08,0.07,-0.06,0.05,-0.07,
  0.07,-0.06,0.08,-0.07,0.06,-0.08,0.1,-0.06,
  0.07,-0.05,0.08,-0.06,0.06,-0.07,0.08,-0.05,
  0.08,-0.06,0.05,-0.07,0.06,-0.05,0.07,-0.04,
  0.05,-0.04,0.03];
const aU_TV = [...headA,
  0.1,-0.12,0.14,-0.1,0.12,-0.14,0.1,-0.12,
  0.12,-0.1,0.14,-0.12,0.1,-0.14,0.12,-0.1,
  -0.4,0.15,0.12,-0.1,0.14,-0.12,0.1,-0.14,
  0.12,-0.1,0.14,-0.12,0.1,-0.14,0.12,-0.1,
  0.14,-0.12,0.1,-0.12,0.14,-0.1,0.12,-0.14,
  0.1,-0.12,0.12,-0.1,0.14,-0.12,0.1,-0.14,
  0.12,-0.1,0.1,-0.14,0.12,-0.1,0.14,-0.12,
  0.14,-0.12,0.1,-0.12,0.14,-0.1,0.12,-0.14,
  0.1,-0.12,0.12,-0.1,0.14,-0.12,0.1,-0.14,
  0.12,-0.1,0.14,-0.12,0.1,-0.14,0.12,-0.1,
  0.1,-0.14,0.12,-0.1,0.14,-0.12,0.1,-0.12,
  0.14,-0.12,0.1,-0.35,0.12,-0.1,0.14,-0.12,
  0.1,-0.14,0.12,-0.1,0.14,-0.12,0.1,-0.12,
  0.12,-0.1,0.14,-0.12,0.1,-0.14,0.12,-0.1,
  0.12,-0.14,0.1,-0.12,0.14,-0.1,0.12,-0.14,
  0.1,-0.12,0.14,-0.1,0.12,-0.12,0.1,-0.14,
  0.14,-0.12,0.1,-0.14,0.12,-0.1,0.12,-0.14,
  0.1,-0.12,0.14,-0.1,0.12,-0.25,0.1,-0.14,
  0.12,-0.1,0.14,-0.12,0.1,-0.12,0.14,-0.1,
  0.12,-0.14,0.1,-0.12,0.14,-0.1,0.12,-0.14,
  0.1,-0.12,0.12,-0.1,0.14,-0.12,0.1,-0.14,
  0.12,-0.1,0.14,-0.12,0.1,-0.14,0.12,-0.1,
  0.14,-0.12,0.1,-0.2,0.12,-0.1,0.14,-0.12,
  0.1,-0.12,0.08];

/* ---- grid of panels: [row][col] -> [dv, a] ---- */
const grid = [
  [[dE_RV, aE_RV], [dE_DV, aE_DV], [dE_TV, aE_TV]],
  [[dN_RV, aN_RV], [dN_DV, aN_DV], [dN_TV, aN_TV]],
  [[dU_RV, aU_RV], [dU_DV, aU_DV], [dU_TV, aU_TV]]
];

/* ---- layout (px) ---- */
const FONT   = '"Liberation Sans", Arial, Helvetica, sans-serif';
const BLUE   = '#0000ff';
const RED    = '#ff0000';
const colX   = [133, 402, 669];
const colW   = [192, 192, 194];
const rowY   = [58, 214, 370];
const PLOT_H = 79;
const AXW_L  = 70;
const AXW_R  = 75;

const font18 = { family: FONT, size: 18, weight: 'normal', lineHeight: '22px' };
const font19 = { family: FONT, size: 19, weight: 'normal', lineHeight: '22px' };
const setTicks = arr => scale => { scale.ticks = arr.map(v => ({ value: v })); };
const plain = v => String(v);

/* draws a run of [text, size, rise] pieces centred on the current origin */
function fillRuns(ctx, runs) {
  const widths = runs.map(([t, s]) => { ctx.font = s + 'px ' + FONT; return ctx.measureText(t).width; });
  let x = -widths.reduce((a, b) => a + b, 0) / 2;
  ctx.textAlign = 'left';
  runs.forEach(([t, s, rise], i) => {
    ctx.font = s + 'px ' + FONT;
    ctx.fillText(t, x, -rise);
    x += widths[i];
  });
}

/* box, inward tick marks, rotated y labels and the epoch label */
function framePlugin(leftLabel, rightComp, rightGap, xLabel) {
  return {
    id: 'frame',
    afterDraw(chart) {
      const { ctx, chartArea: ca, scales } = chart;
      const T = 4;
      ctx.save();
      ctx.lineWidth = 1;

      ctx.strokeStyle = '#000';
      ctx.beginPath();
      ctx.moveTo(ca.left, Math.round(ca.top) + 0.5);
      ctx.lineTo(ca.right, Math.round(ca.top) + 0.5);
      scales.x.ticks.forEach(t => {
        const px = Math.round(scales.x.getPixelForValue(t.value)) + 0.5;
        ctx.moveTo(px, ca.bottom); ctx.lineTo(px, ca.bottom - T);
        ctx.moveTo(px, ca.top);    ctx.lineTo(px, ca.top + T);
      });
      ctx.stroke();

      ctx.strokeStyle = BLUE;
      ctx.beginPath();
      scales.y.ticks.forEach(t => {
        const py = Math.round(scales.y.getPixelForValue(t.value)) + 0.5;
        ctx.moveTo(ca.left, py); ctx.lineTo(ca.left + T, py);
      });
      ctx.stroke();

      ctx.strokeStyle = RED;
      ctx.beginPath();
      scales.y2.ticks.forEach(t => {
        const py = Math.round(scales.y2.getPixelForValue(t.value)) + 0.5;
        ctx.moveTo(ca.right, py); ctx.lineTo(ca.right - T, py);
      });
      ctx.stroke();

      ctx.font = '18px ' + FONT;
      ctx.textAlign = 'center';
      ctx.textBaseline = 'middle';
      const midY = (ca.top + ca.bottom) / 2;
      if (leftLabel) {
        ctx.fillStyle = BLUE;
        ctx.save();
        ctx.translate(ca.left - 51, midY);
        ctx.rotate(-Math.PI / 2);
        ctx.fillText(leftLabel, 0, 0);
        ctx.restore();
      }
      if (rightComp) {
        ctx.fillStyle = RED;
        ctx.save();
        ctx.translate(ca.right + rightGap, midY);
        ctx.rotate(-Math.PI / 2);
        fillRuns(ctx, [['a' + rightComp + '(m/s', 18, 0], ['2', 13, 7], [')', 18, 0]]);
        ctx.restore();
      }
      if (xLabel) {
        ctx.fillStyle = '#000';
        ctx.font = '18px ' + FONT;
        ctx.textAlign = 'center';
        ctx.fillText(xLabel, (ca.left + ca.right) / 2, ca.bottom + 34);
      }
      ctx.restore();
    }
  };
}

function makeConfig(row, col) {
  const [dv, a] = grid[row][col];
  const comp    = comps[row];
  const dvTicks = row === 2 ? dvTicksU : dvTicksEN;
  const aTicks  = row === 2 ? aTicksU  : aTicksEN;
  const pts = vals => vals.map((v, i) => ({ x: i * epochStep, y: v }));
  const noGrid = { display: false, drawTicks: false, tickLength: 0 };
  const hasEpoch = row === 2 && col > 0;

  return {
    type: 'line',
    data: {
      datasets: [
        { data: pts(dv), yAxisID: 'y',  borderColor: BLUE, order: 2 },
        { data: pts(a),  yAxisID: 'y2', borderColor: RED,  order: 1 }
      ]
    },
    options: {
      responsive: false,
      animation: false,
      events: [],
      layout: { padding: { left: 0, right: 0, top: 0, bottom: hasEpoch ? 24 : 0 } },
      elements: {
        line:  { borderWidth: 1, tension: 0, fill: false },
        point: { radius: 0 }
      },
      plugins: {
        legend:  { display: false },
        tooltip: { enabled: false },
        title: {
          display: row === 0,
          text: methods[col],
          color: '#000',
          font: font18,
          padding: { top: 0, bottom: 9 }
        }
      },
      scales: {
        x: {
          type: 'linear', min: 0, max: epochMax,
          afterBuildTicks: setTicks(epochTicks),
          grid: noGrid,
          border: { display: true, color: '#000', width: 1 },
          ticks: { color: '#000', font: font19, padding: 5, maxRotation: 0, autoSkip: false, callback: plain }
        },
        y: {
          position: 'left', min: dvTicks[0], max: dvTicks[2],
          afterBuildTicks: setTicks(dvTicks),
          afterFit: s => { s.width = AXW_L; },
          grid: noGrid,
          border: { display: true, color: BLUE, width: 1 },
          ticks: { color: BLUE, font: font19, padding: 5, callback: plain }
        },
        y2: {
          position: 'right', min: aTicks[0], max: aTicks[2],
          afterBuildTicks: setTicks(aTicks),
          afterFit: s => { s.width = AXW_R; },
          grid: noGrid,
          border: { display: true, color: RED, width: 1 },
          ticks: { color: RED, font: font19, padding: 3, callback: plain }
        }
      }
    },
    plugins: [framePlugin(
      col === 0 ? 'd' + comp + '(m/s)' : '',
      col === 2 ? comp : '',
      row === 2 ? 57 : 35,
      hasEpoch ? 'epoch' : ''
    )]
  };
}

function newCanvas(wrap, w, h) {
  const c = document.createElement('canvas');
  c.width = w; c.height = h;
  c.style.width = w + 'px'; c.style.height = h + 'px';
  wrap.appendChild(c);
  return c;
}

/* build once to learn the space taken by axes and title, then size the canvas so the plot box is PLOT_H tall */
function placePanel(row, col) {
  const wrap = document.createElement('div');
  wrap.className = 'panel';
  document.body.appendChild(wrap);
  const w = AXW_L + colW[col] + AXW_R;

  let h = 200;
  let canvas = newCanvas(wrap, w, h);
  let chart = new Chart(canvas, makeConfig(row, col));
  const extra = h - (chart.chartArea.bottom - chart.chartArea.top);
  chart.destroy();
  wrap.removeChild(canvas);

  h = Math.round(PLOT_H + extra);
  canvas = newCanvas(wrap, w, h);
  chart = new Chart(canvas, makeConfig(row, col));
  const ca = chart.chartArea;
  wrap.style.left = Math.round(colX[col] - ca.left) + 'px';
  wrap.style.top  = Math.round(rowY[row] - ca.top) + 'px';
}

for (let r = 0; r < 3; r++) {
  for (let c = 0; c < 3; c++) placePanel(r, c);
}
document.body.appendChild(document.getElementById('legend'));
</script>
</body>
</html>
